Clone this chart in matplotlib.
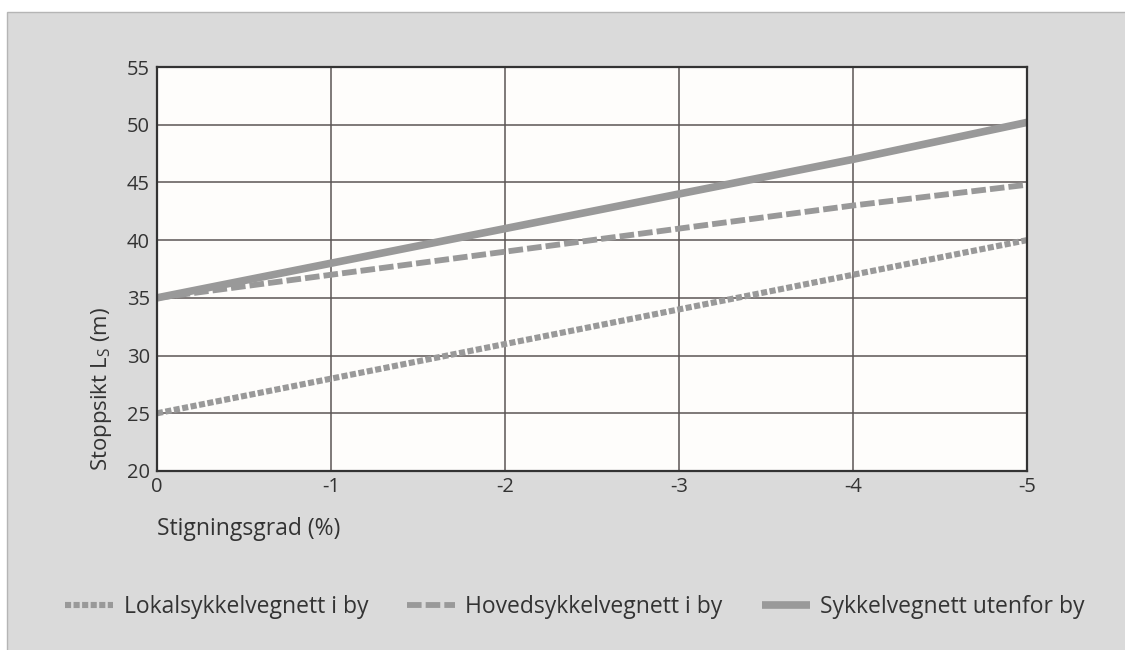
import matplotlib.pyplot as plt
from matplotlib.patches import Rectangle

plt.rcParams['font.family'] = ['Open Sans', 'DejaVu Sans']
plt.rcParams['axes.unicode_minus'] = False

# stigningsgrad (%) og stoppsikt (m)
grad = [0, -1, -2, -3, -4, -5]
grad_labels = ['0', '-1', '-2', '-3', '-4', '-5']
lokal = [25, 28, 31, 34, 37, 40]
hoved = [35, 37, 39, 41, 43, 44.8]
utenfor = [35, 38, 41, 44, 47, 50.2]
yticks = [20, 25, 30, 35, 40, 45, 50, 55]

line_col = '#999999'
grid_col = '#5b5555'
txt_col = '#333333'

fig = plt.figure(figsize=(11.25, 6.5), dpi=100, facecolor='white')
panel = Rectangle((7/1125, -0.01), 1.0, 1 - 12/650 + 0.01,
                  transform=fig.transFigure, facecolor='#dadada',
                  edgecolor='#b5b5b5', linewidth=1, zorder=-10)
fig.add_artist(panel)

ax = fig.add_axes([157/1125, 1 - 471/650, 870/1125, 404/650])
ax.set_zorder(1)
ax.set_facecolor('#fefdfb')

ax.plot(grad, lokal, color=line_col, lw=4.4, dashes=(1.0, 0.4),
        label='Lokalsykkelvegnett i by', zorder=3)
ax.plot(grad, hoved, color=line_col, lw=4.2, dashes=(2.5, 0.7),
        label='Hovedsykkelvegnett i by', zorder=3)
ax.plot(grad, utenfor, color=line_col, lw=5.5, solid_capstyle='butt',
        label='Sykkelvegnett utenfor by', zorder=3)

ax.set_xlim(0, -5)
ax.set_ylim(20, 55)
ax.set_xticks(grad, labels=grad_labels)
ax.set_yticks(yticks)
ax.grid(True, color=grid_col, lw=1.1)
ax.set_axisbelow(True)
ax.tick_params(length=0, labelsize=14.5, colors=txt_col)
ax.tick_params(axis='x', pad=4)
ax.tick_params(axis='y', pad=5)
for s in ax.spines.values():
    s.set_color(txt_col)
    s.set_linewidth(1.6)
    s.set_zorder(4)

ax.set_xlabel('Stigningsgrad (%)', loc='left', fontsize=16.5,
              color=txt_col, labelpad=15)
ax.set_ylabel('Stoppsikt L$_\\mathregular{S}$ (m)', loc='bottom',
              fontsize=16, color=txt_col, labelpad=9)

fig.legend(loc='center', bbox_to_anchor=(0.511, 1 - 607/650), ncol=3,
           frameon=False, fontsize=16.5, handlelength=2.1, columnspacing=1.7,
           handletextpad=0.45, labelcolor=txt_col)

fig.savefig('out.png', dpi=100, facecolor=fig.get_facecolor())
